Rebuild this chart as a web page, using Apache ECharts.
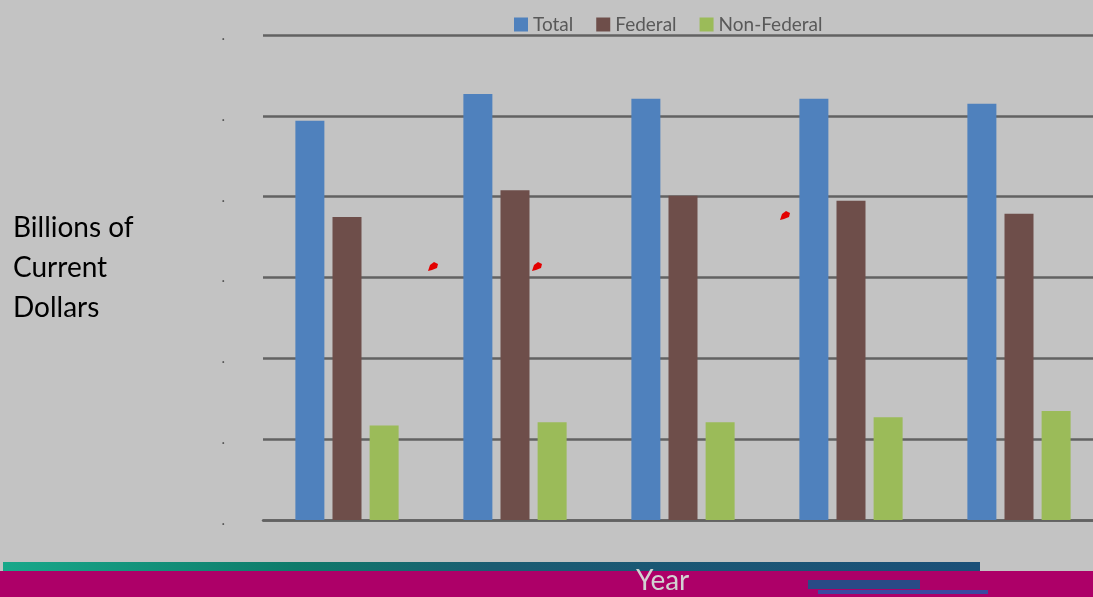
<!DOCTYPE html>
<html><head><meta charset="utf-8">
<script src="https://cdn.jsdelivr.net/npm/echarts@6/dist/echarts.min.js"></script>
<style>html,body{margin:0;padding:0;background:#c3c3c3;}#c{width:1093px;height:597px;}</style>
</head><body><div id="c"></div>
<script>
const categories = ['1', '2', '3', '4', '5'];
const totalValues = [4.94, 5.27, 5.21, 5.21, 5.15];
const federalValues = [3.75, 4.08, 4.01, 3.95, 3.79];
const nonFederalValues = [1.17, 1.21, 1.21, 1.27, 1.35];
const yTicks = [0, 1, 2, 3, 4, 5, 6];

const chart = echarts.init(document.getElementById('c'));
const gridColor = '#626262';
const redMark = (x, y) => ({
  type: 'polygon', z: 100,
  shape: { points: [[x-5, y+4], [x-3, y-2], [x+1, y-5], [x+5, y-3], [x+4, y+1], [x-1, y+3]] },
  style: { fill: '#e30000' }
});
chart.setOption({
  backgroundColor: '#c3c3c3',
  animation: false,
  textStyle: { fontFamily: 'Lato' },
  legend: {
    top: 10, left: 509,
    itemWidth: 14, itemHeight: 14, itemGap: 23,
    icon: 'rect',
    textStyle: { color: '#595959', fontSize: 19, fontFamily: 'Lato' },
    data: ['Total', 'Federal', 'Non-Federal']
  },
  grid: { left: 263, width: 840, top: 35, bottom: 77, containLabel: false, outerBoundsMode: 'none' },
  xAxis: {
    type: 'category', data: categories,
    axisLine: { show: true, lineStyle: { color: gridColor, width: 2.5 } },
    axisTick: { show: false },
    axisLabel: { show: false }
  },
  yAxis: {
    type: 'value', min: yTicks[0], max: yTicks[yTicks.length - 1], interval: 1,
    axisLine: { show: false }, axisTick: { show: false },
    axisLabel: { formatter: function(){ return '.'; }, color: '#555', fontSize: 15, margin: 38, padding: [5, 0, 0, 0] },
    splitLine: { lineStyle: { color: gridColor, width: 2.5 } }
  },
  series: [
    { name: 'Total', type: 'bar', data: totalValues, barWidth: 29, barGap: '28%', itemStyle: { color: '#4f81bd' } },
    { name: 'Federal', type: 'bar', data: federalValues, barWidth: 29, barGap: '28%', itemStyle: { color: '#6e4e4a' } },
    { name: 'Non-Federal', type: 'bar', data: nonFederalValues, barWidth: 29, barGap: '28%', itemStyle: { color: '#9bbb59' } }
  ],
  graphic: [
    { type: 'text', left: 13, top: 208, style: { text: 'Billions of\nCurrent\nDollars', fill: '#000', font: '28px Lato', lineHeight: 40 } },
    { type: 'rect', left: 0, top: 571, shape: { width: 1093, height: 26 }, style: { fill: '#ad0068' } },
    { type: 'rect', left: 3, top: 562, shape: { width: 977, height: 9 },
      style: { fill: new echarts.graphic.LinearGradient(0, 0, 1, 0, [
        { offset: 0, color: '#18a88a' }, { offset: 0.3, color: '#0e7a6a' }, { offset: 0.5, color: '#1b5c72' }, { offset: 1, color: '#1a4f78' }]) } },
    { type: 'text', left: 636, top: 567, style: { text: 'Year', fill: '#d2d2d2', font: '28px Lato' } },
    { type: 'rect', left: 808, top: 580, shape: { width: 112, height: 9 }, style: { fill: '#2a4a86' } },
    { type: 'rect', left: 818, top: 590, shape: { width: 170, height: 4 }, style: { fill: '#3a4aa0' } },
    redMark(433, 267), redMark(537, 267), redMark(785, 216)
  ]
});
</script></body></html>
